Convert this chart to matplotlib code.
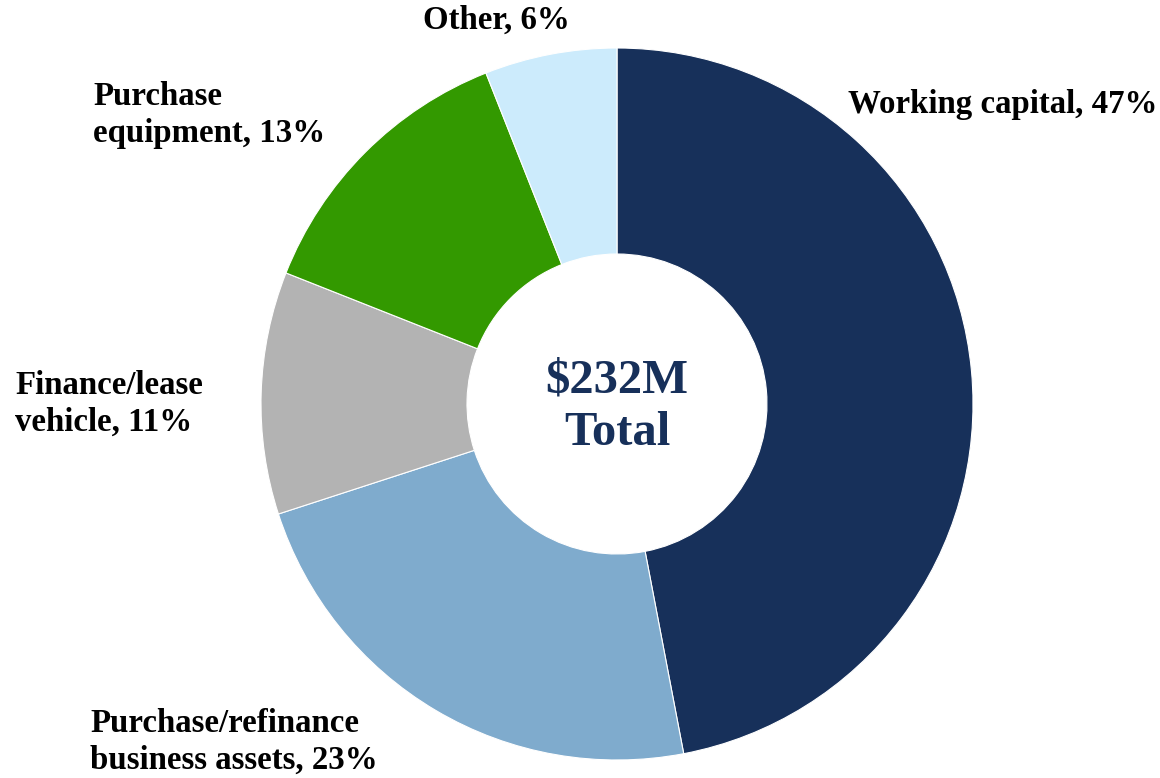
import matplotlib.pyplot as plt

# Loan use breakdown
categories = ["Working capital", "Purchase/refinance\nbusiness assets", "Finance/lease\nvehicle",
              "Purchase\nequipment", "Other"]
shares = [47, 23, 11, 13, 6]
colors = ["#17305A", "#7FABCD", "#B3B3B3", "#339900", "#CCEBFC"]
center_label = "$232M\nTotal"

plt.rcParams['font.family'] = ['Liberation Serif', 'DejaVu Serif']

fig = plt.figure(figsize=(11.6, 7.78), dpi=100)
ax = fig.add_axes([0, 0, 1, 1])

cx, cy, r_out, r_in = 617, 778 - 404, 356, 150
ax.pie(shares, colors=colors, startangle=90, counterclock=False,
       center=(cx, cy), radius=r_out, frame=True,
       wedgeprops=dict(width=r_out - r_in, edgecolor="white", linewidth=0.8))
ax.set_xlim(0, 1160)
ax.set_ylim(0, 778)
ax.set_aspect("equal")
ax.axis("off")

# label text and anchor per slice
label_pos = [(848, 778 - 104, "left"), (90, 778 - 742, "left"), (15, 778 - 404, "left"),
             (93, 778 - 115, "left"), (496, 778 - 20, "center")]
for name, pct, (x, y, ha) in zip(categories, shares, label_pos):
    ax.text(x, y, f"{name}, {pct}%", ha=ha, va="center", fontsize=23.7,
            fontweight="bold", linespacing=1.22, color="black")

ax.text(cx, cy - 3, center_label, ha="center", va="center", fontsize=35,
        fontweight="bold", color="#17305A", linespacing=1.25)

fig.savefig("out.png", dpi=100)
